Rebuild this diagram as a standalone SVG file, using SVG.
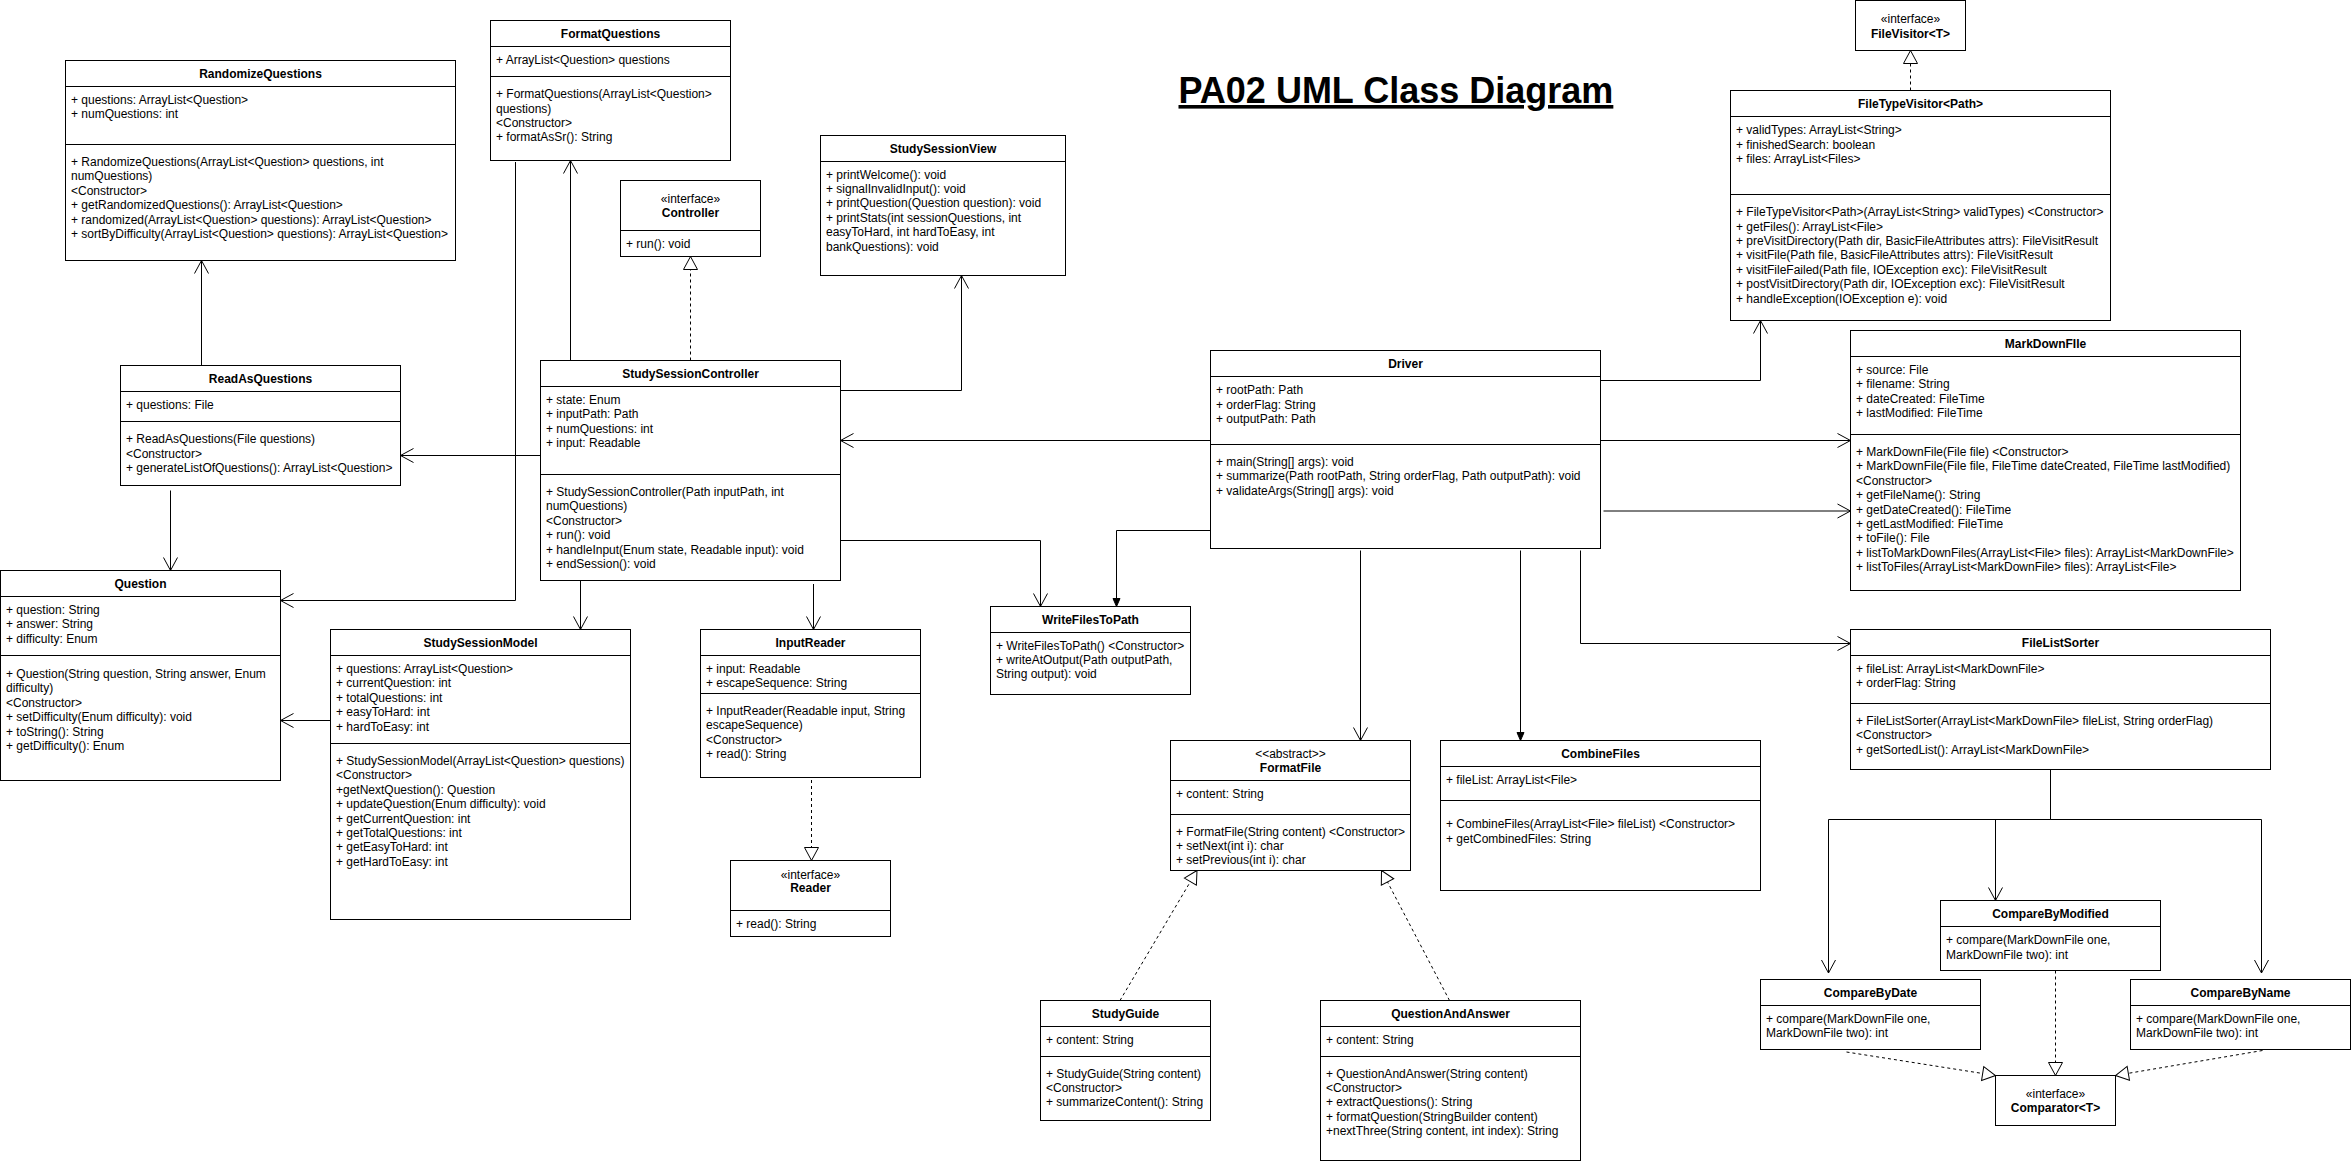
<svg xmlns="http://www.w3.org/2000/svg" width="2351" height="1164" viewBox="0 0 2351 1164">
<style>
text{font-family:"Liberation Sans",Arial,Helvetica,sans-serif;font-size:12px;fill:#000}
.h{font-weight:bold;text-anchor:middle}
.s{text-anchor:middle}
.box{fill:#fff;stroke:#000;stroke-width:1}
.ln{stroke:#000;stroke-width:1;fill:none}
.c{stroke:#000;stroke-width:1;fill:none}
.d{stroke-dasharray:3 3}
.title{font-size:36px;font-weight:bold;text-decoration:underline}
</style>
<defs>
<marker id="open" markerUnits="userSpaceOnUse" markerWidth="20" markerHeight="20" viewBox="-16 -10 20 20" refX="0" refY="0" orient="auto" overflow="visible"><path d="M-13,-7 L0,0 L-13,7" fill="none" stroke="#000" stroke-width="1"/></marker>
<marker id="fill" markerUnits="userSpaceOnUse" markerWidth="20" markerHeight="20" viewBox="-16 -10 20 20" refX="0" refY="0" orient="auto" overflow="visible"><path d="M-8,-3.5 L0,0 L-8,3.5 Z" fill="#000" stroke="#000" stroke-width="1"/></marker>
<marker id="tri" markerUnits="userSpaceOnUse" markerWidth="20" markerHeight="20" viewBox="-16 -10 20 20" refX="0" refY="0" orient="auto" overflow="visible"><path d="M-13,-7 L0,0 L-13,7 Z" fill="#fff" stroke="#000" stroke-width="1"/></marker>
</defs>
<rect width="2351" height="1164" fill="#fff"/>

<text class="title" x="1178.5" y="103">PA02 UML Class Diagram</text>

<g id="connectors">
<path class="c" d="M201.5,365.5 V260.5" marker-end="url(#open)"/>
<path class="c" d="M515.5,162 V600.5 H280.5" marker-end="url(#open)"/>
<path class="c" d="M570.5,360.5 V160.5" marker-end="url(#open)"/>
<path class="c d" d="M690.5,360.5 V256.5" marker-end="url(#tri)"/>
<path class="c" d="M840.5,390.5 H961.5 V275.5" marker-end="url(#open)"/>
<path class="c" d="M540.5,455.5 H400.5" marker-end="url(#open)"/>
<path class="c" d="M580.5,580.5 V629.5" marker-end="url(#open)"/>
<path class="c" d="M813.5,584 V629.5" marker-end="url(#open)"/>
<path class="c" d="M840.5,540.5 H1040.5 V606.5" marker-end="url(#open)"/>
<path class="c" d="M170.5,490.5 V570.5" marker-end="url(#open)"/>
<path class="c" d="M330.5,720.5 H280.5" marker-end="url(#open)"/>
<path class="c d" d="M811.5,780 V860.5" marker-end="url(#tri)"/>
<path class="c" d="M1210.5,440.5 H840.5" marker-end="url(#open)"/>
<path class="c" d="M1210.5,530.5 H1116.5 V606.5" marker-end="url(#fill)"/>
<path class="c" d="M1600.5,380.5 H1760.5 V320.5" marker-end="url(#open)"/>
<path class="c" d="M1600.5,440.5 H1850.5" marker-end="url(#open)"/>
<path class="c" d="M1603.5,511 H1850.5" marker-end="url(#open)"/>
<path class="c" d="M1360.5,550.5 V740.5" marker-end="url(#open)"/>
<path class="c" d="M1520.5,550.5 V740.5" marker-end="url(#fill)"/>
<path class="c" d="M1580.5,550.5 V643.5 H1850.5" marker-end="url(#open)"/>
<path class="c d" d="M1910.5,90.5 V50.5" marker-end="url(#tri)"/>
<path class="c" d="M2050.5,769.5 V819.5 H1828.5 V973" marker-end="url(#open)"/>
<path class="c" d="M2050.5,819.5 H1995.5 V900.5" marker-end="url(#open)"/>
<path class="c" d="M2050.5,819.5 H2261.5 V973" marker-end="url(#open)"/>
<path class="c d" d="M2055.5,970.5 V1075.5" marker-end="url(#tri)"/>
<path class="c d" d="M1846.5,1052 L1995.5,1075.5" marker-end="url(#tri)"/>
<path class="c d" d="M2262.5,1050.5 L2115.5,1075.5" marker-end="url(#tri)"/>
<path class="c d" d="M1120,1000.5 L1197,870.5" marker-end="url(#tri)"/>
<path class="c d" d="M1449.5,1000.5 L1381.5,870.5" marker-end="url(#tri)"/>
</g>

<g id="RandomizeQuestions">
<rect class="box" x="65.5" y="60.5" width="390" height="200"/>
<path class="ln" d="M65.5,86.5 H455.5 M65.5,144.5 H455.5"/>
<text class="h" x="260.5" y="77.7">RandomizeQuestions</text>
<text x="71" y="103.5">+ questions: ArrayList&lt;Question&gt;</text>
<text x="71" y="117.9">+ numQuestions: int</text>
<text x="71" y="165.9">+ RandomizeQuestions(ArrayList&lt;Question&gt; questions, int</text>
<text x="71" y="180.3">numQuestions)</text>
<text x="71" y="194.7">&lt;Constructor&gt;</text>
<text x="71" y="209.1">+ getRandomizedQuestions(): ArrayList&lt;Question&gt;</text>
<text x="71" y="223.5">+ randomized(ArrayList&lt;Question&gt; questions): ArrayList&lt;Question&gt;</text>
<text x="71" y="237.9">+ sortByDifficulty(ArrayList&lt;Question&gt; questions): ArrayList&lt;Question&gt;</text>
</g>

<g id="FormatQuestions">
<rect class="box" x="490.5" y="20.5" width="240" height="140"/>
<path class="ln" d="M490.5,46.5 H730.5 M490.5,76.5 H730.5"/>
<text class="h" x="610.5" y="37.7">FormatQuestions</text>
<text x="496" y="64.2">+ ArrayList&lt;Question&gt; questions</text>
<text x="496" y="98.2">+ FormatQuestions(ArrayList&lt;Question&gt;</text>
<text x="496" y="112.6">questions)</text>
<text x="496" y="127">&lt;Constructor&gt;</text>
<text x="496" y="141.4">+ formatAsSr(): String</text>
</g>

<g id="Controller">
<rect class="box" x="620.5" y="180.5" width="140" height="76"/>
<path class="ln" d="M620.5,230.5 H760.5"/>
<text class="s" x="690.5" y="202.5">«interface»</text>
<text class="h" x="690.5" y="217">Controller</text>
<text x="626" y="247.9">+ run(): void</text>
</g>

<g id="StudySessionView">
<rect class="box" x="820.5" y="135.5" width="245" height="140"/>
<path class="ln" d="M820.5,161.5 H1065.5"/>
<text class="h" x="943" y="152.7">StudySessionView</text>
<text x="826" y="178.5">+ printWelcome(): void</text>
<text x="826" y="192.9">+ signalInvalidInput(): void</text>
<text x="826" y="207.3">+ printQuestion(Question question): void</text>
<text x="826" y="221.7">+ printStats(int sessionQuestions, int</text>
<text x="826" y="236.1">easyToHard, int hardToEasy, int</text>
<text x="826" y="250.5">bankQuestions): void</text>
</g>

<g id="StudySessionController">
<rect class="box" x="540.5" y="360.5" width="300" height="220"/>
<path class="ln" d="M540.5,386.5 H840.5 M540.5,474.5 H840.5"/>
<text class="h" x="690.5" y="377.7">StudySessionController</text>
<text x="546" y="403.9">+ state: Enum</text>
<text x="546" y="418.3">+ inputPath: Path</text>
<text x="546" y="432.7">+ numQuestions: int</text>
<text x="546" y="447.1">+ input: Readable</text>
<text x="546" y="495.9">+ StudySessionController(Path inputPath, int</text>
<text x="546" y="510.3">numQuestions)</text>
<text x="546" y="524.7">&lt;Constructor&gt;</text>
<text x="546" y="539.1">+ run(): void</text>
<text x="546" y="553.5">+ handleInput(Enum state, Readable input): void</text>
<text x="546" y="567.9">+ endSession(): void</text>
</g>

<g id="ReadAsQuestions">
<rect class="box" x="120.5" y="365.5" width="280" height="120"/>
<path class="ln" d="M120.5,391.5 H400.5 M120.5,421.5 H400.5"/>
<text class="h" x="260.5" y="382.7">ReadAsQuestions</text>
<text x="126" y="408.5">+ questions: File</text>
<text x="126" y="443.2">+ ReadAsQuestions(File questions)</text>
<text x="126" y="457.6">&lt;Constructor&gt;</text>
<text x="126" y="472">+ generateListOfQuestions(): ArrayList&lt;Question&gt;</text>
</g>

<g id="Question">
<rect class="box" x="0.5" y="570.5" width="280" height="210"/>
<path class="ln" d="M0.5,596.5 H280.5 M0.5,655.5 H280.5"/>
<text class="h" x="140.5" y="587.7">Question</text>
<text x="6" y="613.9">+ question: String</text>
<text x="6" y="628.3">+ answer: String</text>
<text x="6" y="642.7">+ difficulty: Enum</text>
<text x="6" y="677.9">+ Question(String question, String answer, Enum</text>
<text x="6" y="692.3">difficulty)</text>
<text x="6" y="706.7">&lt;Constructor&gt;</text>
<text x="6" y="721.1">+ setDifficulty(Enum difficulty): void</text>
<text x="6" y="735.5">+ toString(): String</text>
<text x="6" y="749.9">+ getDifficulty(): Enum</text>
</g>

<g id="StudySessionModel">
<rect class="box" x="330.5" y="629.5" width="300" height="290"/>
<path class="ln" d="M330.5,655.5 H630.5 M330.5,743.5 H630.5"/>
<text class="h" x="480.5" y="646.7">StudySessionModel</text>
<text x="336" y="672.9">+ questions: ArrayList&lt;Question&gt;</text>
<text x="336" y="687.3">+ currentQuestion: int</text>
<text x="336" y="701.7">+ totalQuestions: int</text>
<text x="336" y="716.1">+ easyToHard: int</text>
<text x="336" y="730.5">+ hardToEasy: int</text>
<text x="336" y="764.9">+ StudySessionModel(ArrayList&lt;Question&gt; questions)</text>
<text x="336" y="779.3">&lt;Constructor&gt;</text>
<text x="336" y="793.7">+getNextQuestion(): Question</text>
<text x="336" y="808.1">+ updateQuestion(Enum difficulty): void</text>
<text x="336" y="822.5">+ getCurrentQuestion: int</text>
<text x="336" y="836.9">+ getTotalQuestions: int</text>
<text x="336" y="851.3">+ getEasyToHard: int</text>
<text x="336" y="865.7">+ getHardToEasy: int</text>
</g>

<g id="InputReader">
<rect class="box" x="700.5" y="629.5" width="220" height="148"/>
<path class="ln" d="M700.5,655.5 H920.5 M700.5,693.5 H920.5"/>
<text class="h" x="810.5" y="646.7">InputReader</text>
<text x="706" y="672.9">+ input: Readable</text>
<text x="706" y="687.3">+ escapeSequence: String</text>
<text x="706" y="714.9">+ InputReader(Readable input, String</text>
<text x="706" y="729.3">escapeSequence)</text>
<text x="706" y="743.7">&lt;Constructor&gt;</text>
<text x="706" y="758.1">+ read(): String</text>
</g>

<g id="Reader">
<rect class="box" x="730.5" y="860.5" width="160" height="76"/>
<path class="ln" d="M730.5,910.5 H890.5"/>
<text class="s" x="810.5" y="878.5">«interface»</text>
<text class="h" x="810.5" y="892">Reader</text>
<text x="736" y="927.9">+ read(): String</text>
</g>

<g id="WriteFilesToPath">
<rect class="box" x="990.5" y="606.5" width="200" height="88"/>
<path class="ln" d="M990.5,632.5 H1190.5"/>
<text class="h" x="1090.5" y="623.7">WriteFilesToPath</text>
<text x="996" y="649.5">+ WriteFilesToPath() &lt;Constructor&gt;</text>
<text x="996" y="663.9">+ writeAtOutput(Path outputPath,</text>
<text x="996" y="678.3">String output): void</text>
</g>

<g id="Driver">
<rect class="box" x="1210.5" y="350.5" width="390" height="198"/>
<path class="ln" d="M1210.5,376.5 H1600.5 M1210.5,444.5 H1600.5"/>
<text class="h" x="1405.5" y="367.7">Driver</text>
<text x="1216" y="394.2">+ rootPath: Path</text>
<text x="1216" y="408.6">+ orderFlag: String</text>
<text x="1216" y="423">+ outputPath: Path</text>
<text x="1216" y="465.9">+ main(String[] args): void</text>
<text x="1216" y="480.3">+ summarize(Path rootPath, String orderFlag, Path outputPath): void</text>
<text x="1216" y="494.7">+ validateArgs(String[] args): void</text>
</g>

<g id="FileVisitor">
<rect class="box" x="1855.5" y="0.5" width="110" height="50"/>
<text class="s" x="1910.5" y="22.5">«interface»</text>
<text class="h" x="1910.5" y="37.5">FileVisitor&lt;T&gt;</text>
</g>

<g id="FileTypeVisitor">
<rect class="box" x="1730.5" y="90.5" width="380" height="230"/>
<path class="ln" d="M1730.5,116.5 H2110.5 M1730.5,194.5 H2110.5"/>
<text class="h" x="1920.5" y="107.7">FileTypeVisitor&lt;Path&gt;</text>
<text x="1736" y="134.2">+ validTypes: ArrayList&lt;String&gt;</text>
<text x="1736" y="148.6">+ finishedSearch: boolean</text>
<text x="1736" y="163">+ files: ArrayList&lt;Files&gt;</text>
<text x="1736" y="216.2">+ FileTypeVisitor&lt;Path&gt;(ArrayList&lt;String&gt; validTypes) &lt;Constructor&gt;</text>
<text x="1736" y="230.6">+ getFiles(): ArrayList&lt;File&gt;</text>
<text x="1736" y="245">+ preVisitDirectory(Path dir, BasicFileAttributes attrs): FileVisitResult</text>
<text x="1736" y="259.4">+ visitFile(Path file, BasicFileAttributes attrs): FileVisitResult</text>
<text x="1736" y="273.8">+ visitFileFailed(Path file, IOException exc): FileVisitResult</text>
<text x="1736" y="288.2">+ postVisitDirectory(Path dir, IOException exc): FileVisitResult</text>
<text x="1736" y="302.6">+ handleException(IOException e): void</text>
</g>

<g id="MarkDownFile">
<rect class="box" x="1850.5" y="330.5" width="390" height="260"/>
<path class="ln" d="M1850.5,356.5 H2240.5 M1850.5,434.5 H2240.5"/>
<text class="h" x="2045.5" y="347.7">MarkDownFIle</text>
<text x="1856" y="373.9">+ source: File</text>
<text x="1856" y="388.3">+ filename: String</text>
<text x="1856" y="402.7">+ dateCreated: FileTime</text>
<text x="1856" y="417.1">+ lastModified: FileTime</text>
<text x="1856" y="455.9">+ MarkDownFile(File file) &lt;Constructor&gt;</text>
<text x="1856" y="470.3">+ MarkDownFile(File file, FileTime dateCreated, FileTime lastModified)</text>
<text x="1856" y="484.7">&lt;Constructor&gt;</text>
<text x="1856" y="499.1">+ getFileName(): String</text>
<text x="1856" y="513.5">+ getDateCreated(): FileTime</text>
<text x="1856" y="527.9">+ getLastModified: FileTime</text>
<text x="1856" y="542.3">+ toFile(): File</text>
<text x="1856" y="556.7">+ listToMarkDownFiles(ArrayList&lt;File&gt; files): ArrayList&lt;MarkDownFile&gt;</text>
<text x="1856" y="571.1">+ listToFiles(ArrayList&lt;MarkDownFile&gt; files): ArrayList&lt;File&gt;</text>
</g>

<g id="FileListSorter">
<rect class="box" x="1850.5" y="629.5" width="420" height="140"/>
<path class="ln" d="M1850.5,655.5 H2270.5 M1850.5,703.5 H2270.5"/>
<text class="h" x="2060.5" y="646.7">FileListSorter</text>
<text x="1856" y="672.9">+ fileList: ArrayList&lt;MarkDownFile&gt;</text>
<text x="1856" y="687.3">+ orderFlag: String</text>
<text x="1856" y="724.9">+ FileListSorter(ArrayList&lt;MarkDownFile&gt; fileList, String orderFlag)</text>
<text x="1856" y="739.3">&lt;Constructor&gt;</text>
<text x="1856" y="753.7">+ getSortedList(): ArrayList&lt;MarkDownFile&gt;</text>
</g>

<g id="FormatFile">
<rect class="box" x="1170.5" y="740.5" width="240" height="130"/>
<path class="ln" d="M1170.5,780.5 H1410.5 M1170.5,814.5 H1410.5"/>
<text class="s" x="1290.5" y="757.5">&lt;&lt;abstract&gt;&gt;</text>
<text class="h" x="1290.5" y="771.9">FormatFile</text>
<text x="1176" y="797.9">+ content: String</text>
<text x="1176" y="835.5">+ FormatFile(String content) &lt;Constructor&gt;</text>
<text x="1176" y="849.9">+ setNext(int i): char</text>
<text x="1176" y="864.3">+ setPrevious(int i): char</text>
</g>

<g id="CombineFiles">
<rect class="box" x="1440.5" y="740.5" width="320" height="150"/>
<path class="ln" d="M1440.5,766.5 H1760.5 M1440.5,800.5 H1760.5"/>
<text class="h" x="1600.5" y="757.7">CombineFiles</text>
<text x="1446" y="783.9">+ fileList: ArrayList&lt;File&gt;</text>
<text x="1446" y="828.2">+ CombineFiles(ArrayList&lt;File&gt; fileList) &lt;Constructor&gt;</text>
<text x="1446" y="842.6">+ getCombinedFiles: String</text>
</g>

<g id="StudyGuide">
<rect class="box" x="1040.5" y="1000.5" width="170" height="120"/>
<path class="ln" d="M1040.5,1026.5 H1210.5 M1040.5,1056.5 H1210.5"/>
<text class="h" x="1125.5" y="1017.7">StudyGuide</text>
<text x="1046" y="1043.5">+ content: String</text>
<text x="1046" y="1077.5">+ StudyGuide(String content)</text>
<text x="1046" y="1091.9">&lt;Constructor&gt;</text>
<text x="1046" y="1106.3">+ summarizeContent(): String</text>
</g>

<g id="QuestionAndAnswer">
<rect class="box" x="1320.5" y="1000.5" width="260" height="160"/>
<path class="ln" d="M1320.5,1026.5 H1580.5 M1320.5,1056.5 H1580.5"/>
<text class="h" x="1450.5" y="1017.7">QuestionAndAnswer</text>
<text x="1326" y="1043.9">+ content: String</text>
<text x="1326" y="1077.5">+ QuestionAndAnswer(String content)</text>
<text x="1326" y="1091.9">&lt;Constructor&gt;</text>
<text x="1326" y="1106.3">+ extractQuestions(): String</text>
<text x="1326" y="1120.7">+ formatQuestion(StringBuilder content)</text>
<text x="1326" y="1135.1">+nextThree(String content, int index): String</text>
</g>

<g id="CompareByModified">
<rect class="box" x="1940.5" y="900.5" width="220" height="70"/>
<path class="ln" d="M1940.5,926.5 H2160.5"/>
<text class="h" x="2050.5" y="917.7">CompareByModified</text>
<text x="1946" y="944.2">+ compare(MarkDownFile one,</text>
<text x="1946" y="958.6">MarkDownFile two): int</text>
</g>

<g id="CompareByDate">
<rect class="box" x="1760.5" y="979.5" width="220" height="70"/>
<path class="ln" d="M1760.5,1005.5 H1980.5"/>
<text class="h" x="1870.5" y="996.7">CompareByDate</text>
<text x="1766" y="1022.9">+ compare(MarkDownFile one,</text>
<text x="1766" y="1037.3">MarkDownFile two): int</text>
</g>

<g id="CompareByName">
<rect class="box" x="2130.5" y="979.5" width="220" height="70"/>
<path class="ln" d="M2130.5,1005.5 H2350.5"/>
<text class="h" x="2240.5" y="996.7">CompareByName</text>
<text x="2136" y="1022.9">+ compare(MarkDownFile one,</text>
<text x="2136" y="1037.3">MarkDownFile two): int</text>
</g>

<g id="Comparator">
<rect class="box" x="1995.5" y="1075.5" width="120" height="50"/>
<text class="s" x="2055.5" y="1097.5">«interface»</text>
<text class="h" x="2055.5" y="1111.9">Comparator&lt;T&gt;</text>
</g>
</svg>
